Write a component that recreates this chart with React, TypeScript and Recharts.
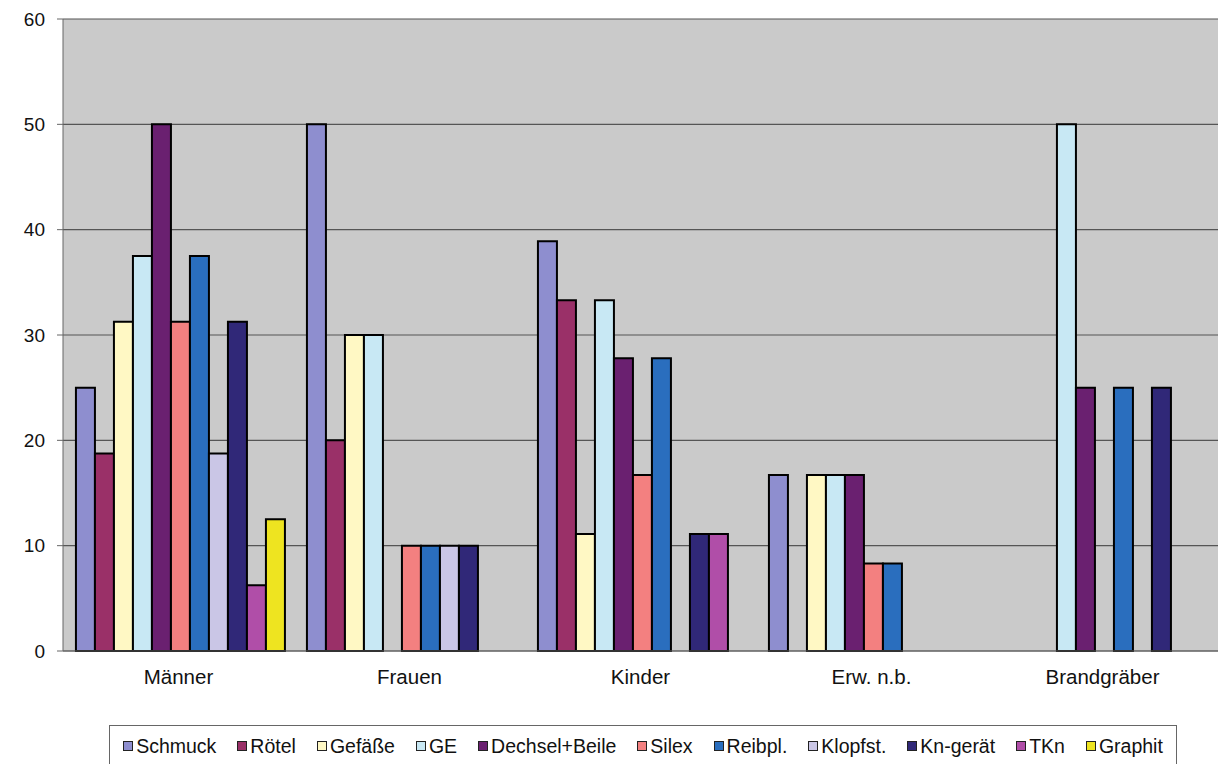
import React from 'react';
import { BarChart, Bar, XAxis, YAxis, CartesianGrid } from 'recharts';

const categories = ['Männer', 'Frauen', 'Kinder', 'Erw. n.b.', 'Brandgräber'];

const seriesNames = [
  'Schmuck',
  'Rötel',
  'Gefäße',
  'GE',
  'Dechsel+Beile',
  'Silex',
  'Reibpl.',
  'Klopfst.',
  'Kn-gerät',
  'TKn',
  'Graphit',
];

const seriesColors = [
  '#8e8ecf',
  '#9a3068',
  '#fff8c4',
  '#c8e8f4',
  '#6a2070',
  '#f38080',
  '#2a6ebe',
  '#cac6e6',
  '#302878',
  '#b04ea8',
  '#eee420',
];

// values per series, in category order
const schmuck = [25, 50, 38.9, 16.7, 0];
const roetel = [18.75, 20, 33.3, 0, 0];
const gefaesse = [31.25, 30, 11.1, 16.7, 0];
const ge = [37.5, 30, 33.3, 16.7, 50];
const dechsel = [50, 0, 27.8, 16.7, 25];
const silex = [31.25, 10, 16.7, 8.3, 0];
const reibpl = [37.5, 10, 27.8, 8.3, 25];
const klopfst = [18.75, 10, 0, 0, 0];
const kngeraet = [31.25, 10, 11.1, 0, 25];
const tkn = [6.25, 0, 11.1, 0, 0];
const graphit = [12.5, 0, 0, 0, 0];

const seriesValues = [schmuck, roetel, gefaesse, ge, dechsel, silex, reibpl, klopfst, kngeraet, tkn, graphit];

const yTicks = [0, 10, 20, 30, 40, 50, 60];

const data = categories.map((cat, i) => {
  const row: Record<string, string | number> = { name: cat };
  seriesNames.forEach((s, j) => {
    row[s] = seriesValues[j][i];
  });
  return row;
});

const FONT = '"Liberation Sans", Arial, sans-serif';

const App: React.FC = () => {
  return (
    <div style={{ position: 'absolute', left: 0, top: 0, width: 1220, height: 764, background: '#fff', fontFamily: FONT }}>
      <BarChart
        width={1220}
        height={764}
        data={data}
        margin={{ top: 19, right: 2, left: 0, bottom: 73 }}
        barCategoryGap="5.6%"
        barGap={0}
      >
        <CartesianGrid fill="#cacaca" stroke="#555" vertical={false} strokeWidth={1.2} />
        <XAxis
          dataKey="name"
          height={40}
          tickLine={false}
          tickSize={6}
          tickMargin={12}
          stroke="#666"
          tick={{ fill: '#111', fontSize: 20.5, fontFamily: FONT }}
        />
        <YAxis
          width={63}
          domain={[0, 60]}
          ticks={yTicks}
          interval={0}
          tickSize={6}
          tickMargin={12}
          stroke="#666"
          tick={{ fill: '#111', fontSize: 19, fontFamily: FONT }}
        />
        {seriesNames.map((s, j) => (
          <Bar
            key={s}
            dataKey={s}
            fill={seriesColors[j]}
            stroke="#000"
            strokeWidth={2}
            isAnimationActive={false}
          />
        ))}
      </BarChart>
      <div
        style={{
          position: 'absolute',
          left: 109,
          top: 725,
          width: 1068,
          height: 42,
          boxSizing: 'border-box',
          border: '1.5px solid #666',
          display: 'flex',
          alignItems: 'center',
          justifyContent: 'center',
          gap: 21,
          fontSize: 19.5,
          color: '#111',
        }}
      >
        {seriesNames.map((s, j) => (
          <div key={s} style={{ display: 'flex', alignItems: 'center' }}>
            <span
              style={{
                display: 'inline-block',
                width: 8,
                height: 8,
                background: seriesColors[j],
                border: '1.5px solid #222',
                marginRight: 3,
              }}
            />
            {s}
          </div>
        ))}
      </div>
    </div>
  );
};

export default App;
